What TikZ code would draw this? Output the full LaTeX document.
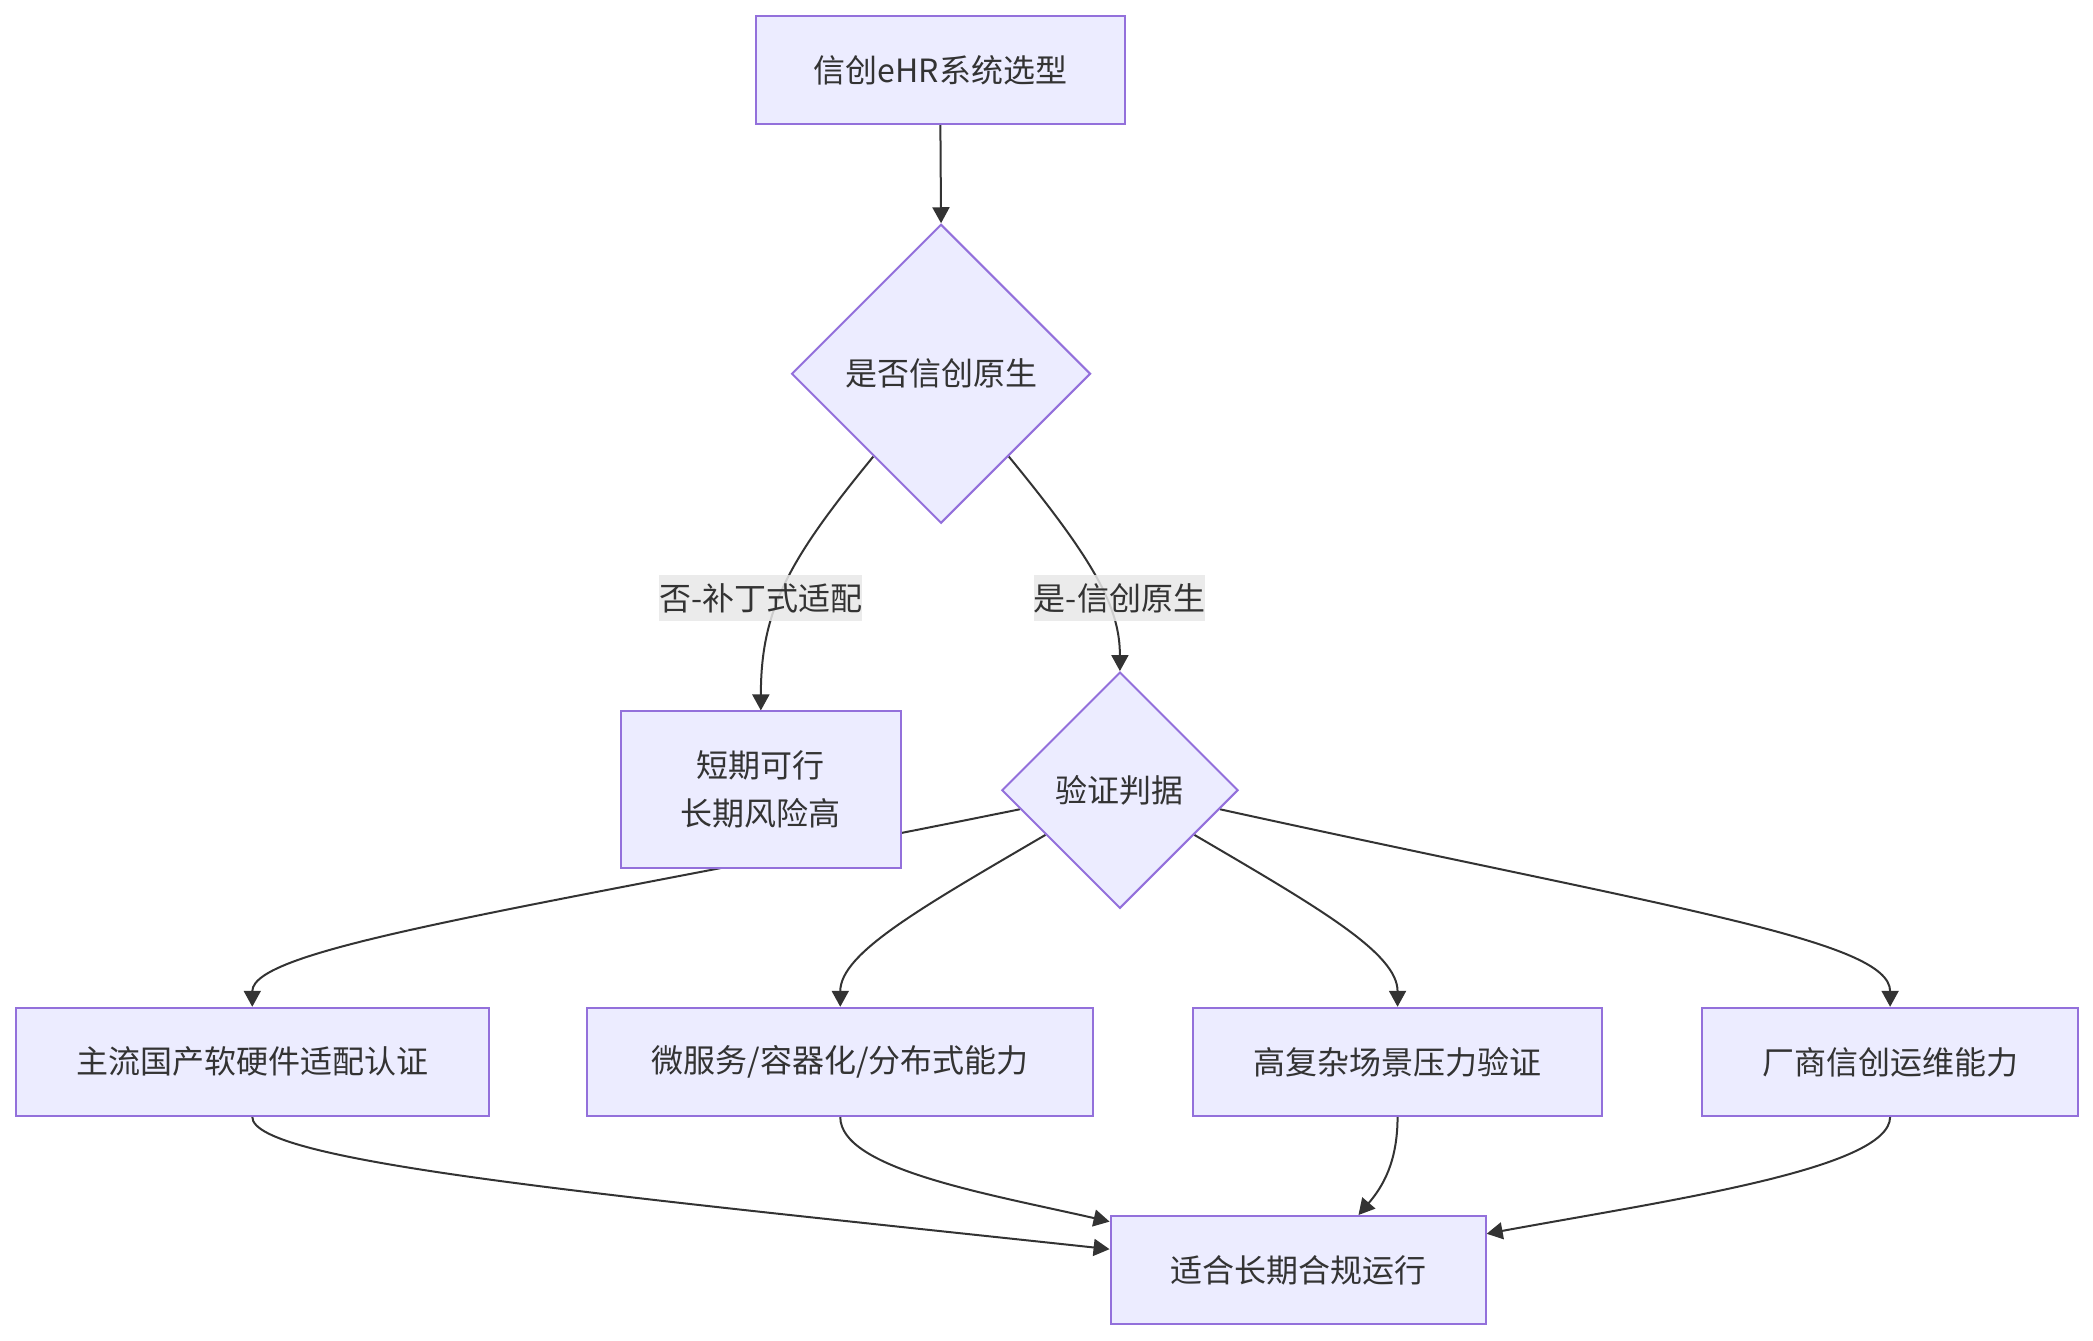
\documentclass[tikz,border=0pt]{standalone}
\usepackage{fontspec}
\setmainfont{Noto Sans CJK SC}
\usetikzlibrary{shapes.geometric,arrows.meta,calc,backgrounds}
\definecolor{nfill}{HTML}{ECECFF}
\definecolor{nstroke}{HTML}{9370DB}
\definecolor{ntext}{HTML}{333333}
\definecolor{edgec}{HTML}{333333}
\definecolor{lblbg}{HTML}{E8E8E8}
\def\pxu{0.6674pt}
\begin{document}
\begin{tikzpicture}[x=0.6674pt,y=-0.6674pt,
  nfont/.style={font=\fontsize{16pt}{24pt}\selectfont},
  box/.style={draw=nstroke, fill=nfill, line width=1pt, text=ntext, nfont, align=center, inner sep=0pt},
  bw/.style={minimum width=#1*\pxu},
  bh/.style={minimum height=#1*\pxu},
  dec/.style={diamond, aspect=1, draw=nstroke, fill=nfill, line width=1pt, text=ntext, nfont, inner sep=0pt},
  dsz/.style={minimum width=#1*\pxu, minimum height=#1*\pxu},
  edge/.style={draw=edgec, line width=1pt, -{Triangle[length=8pt,width=8.5pt]}},
  lbl/.style={fill=lblbg, fill opacity=0.85, text opacity=1, text=ntext, nfont, inner sep=0pt, minimum height=35*\pxu}
]
\useasboundingbox (0,0) rectangle (1568,1004);

\node[box, bw=277, bh=81] (a) at (704.5,52.5) {信创eHR系统选型};
\node[dec, dsz=224] (d1) at (705,280) {是否信创原生};
\node[box, bw=210, bh=117] (b) at (570,591.5) {短期可行\\长期风险高};
\node[dec, dsz=177] (d2) at (839,592) {验证判据};
\node[box, bw=354, bh=81] (c1) at (189,795.5) {主流国产软硬件适配认证};
\node[box, bw=379, bh=81] (c2) at (629.5,795.5) {微服务/容器化/分布式能力};
\node[box, bw=306, bh=81] (c3) at (1047,795.5) {高复杂场景压力验证};
\node[box, bw=282, bh=81] (c4) at (1416,795.5) {厂商信创运维能力};
\node[box, bw=281, bh=81] (e) at (972.5,951.5) {适合长期合规运行};

\begin{pgfonlayer}{background}
\draw[edge] (a.south) -- (d1.north);
\draw[edge] ($(d1.west)!0.55!(d1.south)$) .. controls +(-64,78) and +(0,-75) .. (b.north);
\draw[edge] ($(d1.east)!0.55!(d1.south)$) .. controls +(64,78) and +(0,-48) .. (d2.north);
\draw[edge] ($(d2.west)!0.16!(d2.south)$) .. controls +(-365,74) and +(0,-45) .. (c1.north);
\draw[edge] ($(d2.west)!0.375!(d2.south)$) .. controls +(-94,55) and +(0,-40) .. (c2.north);
\draw[edge] ($(d2.east)!0.375!(d2.south)$) .. controls +(94,55) and +(0,-40) .. (c3.north);
\draw[edge] ($(d2.east)!0.16!(d2.south)$) .. controls +(337,74) and +(0,-50) .. (c4.north);
\draw[edge] (c1.south) .. controls +(0,34) and +(-382,-41) .. ($(e.north west)!0.31!(e.south west)$);
\draw[edge] (c2.south) .. controls +(0,39) and +(-92,-21) .. ($(e.north west)!0.06!(e.south west)$);
\draw[edge] (c3.south) .. controls +(0,34) and +(18,-21) .. ($(e.north west)!0.66!(e.north east)$);
\draw[edge] (c4.south) .. controls +(0,39) and +(136,-25) .. ($(e.north east)!0.17!(e.south east)$);
\end{pgfonlayer}

\node[lbl, minimum width=152*\pxu] (lno) at (570,448) {否-补丁式适配};
\node[lbl, minimum width=128*\pxu] (lyes) at (838.7,448) {是-信创原生};
\end{tikzpicture}
\end{document}
